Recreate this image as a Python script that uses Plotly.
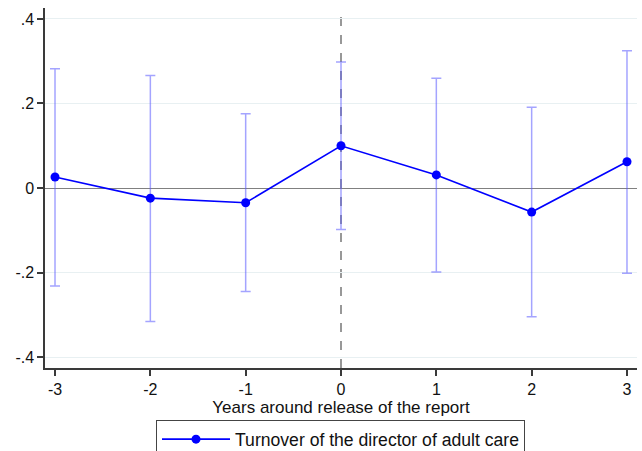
import plotly.graph_objects as go

# Event-study estimates with 95% confidence intervals
years = [-3, -2, -1, 0, 1, 2, 3]
coef = [0.026, -0.024, -0.035, 0.100, 0.031, -0.057, 0.062]
ci_low = [-0.232, -0.316, -0.245, -0.098, -0.199, -0.305, -0.202]
ci_high = [0.282, 0.266, 0.176, 0.298, 0.260, 0.191, 0.325]

x_ticktext = ["-3", "-2", "-1", "0", "1", "2", "3"]
y_tickvals = [-0.4, -0.2, 0, 0.2, 0.4]
y_ticktext = ["-.4", "-.2", "0", ".2", ".4"]

series_name = "Turnover of the director of adult care"
x_title = "Years around release of the report"

W, H = 642, 451
FONT = "Liberation Sans, Arial, sans-serif"
AXIS_COLOR = "#3a3a3a"

fig = go.Figure()

# confidence intervals
fig.add_trace(go.Scatter(
    x=years, y=coef, mode="none", showlegend=False, hoverinfo="skip",
    error_y=dict(
        type="data", symmetric=False,
        array=[h - c for h, c in zip(ci_high, coef)],
        arrayminus=[c - l for c, l in zip(coef, ci_low)],
        color="rgba(90,90,255,0.55)", thickness=1.5, width=5,
    ),
))

# point estimates
fig.add_trace(go.Scatter(
    x=years, y=coef, mode="lines+markers", name=series_name,
    line=dict(color="#0000ff", width=1.6),
    marker=dict(color="#0000ff", size=9),
))

# release year marker
fig.add_shape(type="line", xref="x", yref="paper", x0=0, x1=0, y0=0, y1=1,
              line=dict(color="#7f7f7f", width=1.6, dash="dash"), layer="below")

fig.update_layout(
    width=W, height=H,
    margin=dict(l=45, r=5, t=8, b=83, autoexpand=False),
    paper_bgcolor="white", plot_bgcolor="white",
    font=dict(family=FONT, size=16, color="#111111"),
    showlegend=True,
    legend=dict(
        x=0.1875, y=-0.145, xanchor="left", yanchor="top",
        bordercolor="#444444", borderwidth=1,
        font=dict(size=17.6), itemwidth=68,
    ),
    xaxis=dict(
        range=[-3.105, 3.105], tickvals=years, ticktext=x_ticktext,
        showgrid=False, zeroline=False,
        showline=True, linecolor=AXIS_COLOR, linewidth=1.5,
        ticks="outside", ticklen=6, tickwidth=1.5, tickcolor=AXIS_COLOR,
        tickfont=dict(size=16),
        title=dict(text=x_title, font=dict(size=17), standoff=3),
    ),
    yaxis=dict(
        range=[-0.426, 0.426], tickvals=y_tickvals, ticktext=y_ticktext,
        showgrid=True, gridcolor="#e8f0f2", gridwidth=1,
        zeroline=True, zerolinecolor="#808080", zerolinewidth=1.2,
        showline=True, linecolor=AXIS_COLOR, linewidth=1.5,
        ticks="outside", ticklen=6, tickwidth=1.5, tickcolor=AXIS_COLOR,
        tickfont=dict(size=16),
    ),
)

fig.write_html("out.html")
